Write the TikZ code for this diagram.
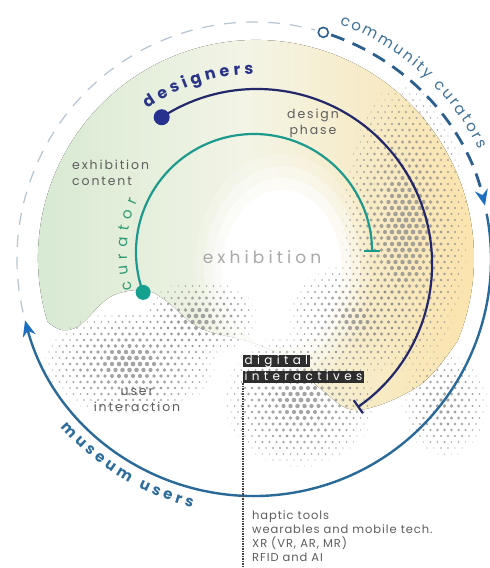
\documentclass[tikz,border=0pt]{standalone}
\usepackage{fontspec}
\setmainfont{Poppins}
\newfontfamily\spaced{Poppins}[LetterSpace=15]
\newfontfamily\widespaced{Poppins}[LetterSpace=24]
\newfontfamily\tagfont{Poppins}[LetterSpace=36]
\newfontfamily\listfont{Poppins}[LetterSpace=8]
\usetikzlibrary{arrows.meta,decorations.text}

\definecolor{regiongreen}{HTML}{D4E8D0}
\definecolor{regionpale}{HTML}{F3F4E6}
\definecolor{regionyellow}{HTML}{FBE3AB}
\definecolor{dotgray}{HTML}{8E8E8E}
\definecolor{ringgray}{HTML}{B7C4D1}
\definecolor{dashblue}{HTML}{2A5F8E}
\definecolor{outerblue}{HTML}{2A6A99}
\definecolor{arrowblue}{HTML}{1C6FBE}
\definecolor{commtext}{HTML}{3E7099}
\definecolor{museumtext}{HTML}{2D6C9B}
\definecolor{navyline}{HTML}{23286A}
\definecolor{navydot}{HTML}{27318E}
\definecolor{navytext}{HTML}{2A3487}
\definecolor{tealline}{HTML}{1D9A8E}
\definecolor{tealdot}{HTML}{16A08F}
\definecolor{tealtext}{HTML}{2F9B74}
\definecolor{labelgray}{HTML}{5E5E5E}
\definecolor{softgray}{HTML}{A9A9A9}
\definecolor{boxdark}{HTML}{2E2E2E}

\newcommand\arcfont{\fontsize{15}{15}\selectfont}
\newcommand\bigarcfont{\fontsize{16}{16}\selectfont}

% halftone dots: centre x, centre y, half width, half height, largest radius
\newcommand\halftone[5]{%
  \pgfmathtruncatemacro\hxa{(#1-#3)/7}%
  \pgfmathtruncatemacro\hxb{(#1+#3)/7+1}%
  \pgfmathtruncatemacro\hya{(#2-#4)/6}%
  \pgfmathtruncatemacro\hyb{(#2+#4)/6+1}%
  \foreach \j in {\hya,...,\hyb}{%
    \foreach \i in {\hxa,...,\hxb}{%
      \pgfmathsetmacro\px{7*\i+3.5*mod(\j,2)}%
      \pgfmathsetmacro\py{6*\j}%
      \pgfmathsetmacro\dd{sqrt(((\px-#1)/#3)^2+((\py-#2)/#4)^2)}%
      \ifdim\dd pt<1pt
        \pgfmathsetmacro\dotr{#5*(1-\dd)^0.6}%
        \ifdim\dotr pt>0.35pt \fill[dotgray, opacity=.8] (\px,\py) circle[radius=\dotr]; \fi
      \fi
    }%
  }%
}

\begin{document}
\begin{tikzpicture}[x=1pt, y=1pt,
  lbl/.style={text=labelgray, font=\spaced\fontsize{12.5}{16}\selectfont, align=center, inner sep=0pt},
  tagbox/.style={fill=boxdark, text=white, font=\tagfont\fontsize{12}{12}\selectfont, anchor=north west,
    inner xsep=1.5pt, inner ysep=0pt, text height=9.5pt, text depth=2.5pt},
  startdot/.style={circle, inner sep=0pt, minimum size=15pt},
  ringtip/.style={-{Stealth[length=16pt, width=13pt, color=arrowblue]}},
  endbar/.style={-{Bar[width=16pt]}}
]
\useasboundingbox (0,0) rectangle (490,568);
\fill[white] (0,0) rectangle (490,568);

\coordinate (O) at (254,309);
\coordinate (R) at (256,310);
\coordinate (N) at (257,304);
\coordinate (T) at (254,316);
\coordinate (B) at (282,298);

% coloured band behind the two arcs
\fill[left color=regiongreen, right color=regionyellow, middle color=regionpale]
  ([shift={(197:218)}]R) arc[start angle=197, end angle=-22, radius=218]
  -- plot[smooth, tension=0.6] coordinates {(458,228) (420,183) (358,158) (322,178) (290,208)
     (250,226) (200,240) (165,268) (143,278) (110,271) (80,243) (62,238) (47.5,246)} -- cycle;
\foreach \k/\op in {1.45/0.2, 1.3/0.35, 1.15/0.55, 1/1}
  \fill[white, opacity=\op] (B) ellipse[x radius=60*\k, y radius=80*\k];

% halftone
\halftone{405}{340}{66}{150}{2.6}
\halftone{355}{248}{70}{60}{2.3}
\halftone{300}{168}{80}{70}{2.4}
\halftone{445}{163}{45}{55}{2.0}
\halftone{200}{250}{60}{40}{2.4}
\halftone{130}{205}{90}{55}{2.5}

% outer ring
\draw[ringgray, line width=1.2pt, dash pattern=on 12pt off 10pt]
  ([shift={(193:237)}]O) arc[start angle=193, end angle=75, radius=237];
\node[circle, draw=dashblue, line width=1.6pt, minimum size=10pt, inner sep=0pt] (hub) at ([shift={(73:237)}]O) {};
\draw[dashblue, line width=2.8pt, dash pattern=on 14pt off 9pt, ringtip]
  ([shift={(71:237)}]O) arc[start angle=71, end angle=13, radius=237];
\draw[outerblue, line width=2.4pt, ringtip]
  ([shift={(11:237)}]O) arc[start angle=11, end angle=-165, radius=237];

% curator and designers
\coordinate (curstart) at ([shift={(200:118)}]T);
\draw[tealline, line width=2.2pt, endbar] (curstart) arc[start angle=200, end angle=0, radius=118];
\node[startdot, fill=tealdot] (curdot) at (curstart) {};
\coordinate (desstart) at ([shift={(123:175)}]N);
\draw[navyline, line width=2.2pt, endbar] (desstart) arc[start angle=123, end angle=-55, radius=175];
\node[startdot, fill=navydot, minimum size=16pt] (desdot) at (desstart) {};

% lettering on the arcs
\path[decorate, decoration={text along path, text align=fit to path,
  text={|\bigarcfont\bfseries\color{navytext}|designers}}]
  ([shift={(125:190)}]N) arc[start angle=125, end angle=91, radius=190];
\path[decorate, decoration={text along path, text align=fit to path,
  text={|\arcfont\color{tealtext}|curator}}]
  ([shift={(197:127)}]T) arc[start angle=197, end angle=156, radius=127];
\path[decorate, decoration={text along path, text align=fit to path,
  text={|\arcfont\color{commtext}|community curators}}]
  ([shift={(70:250)}]O) arc[start angle=70, end angle=26, radius=250];
\path[decorate, decoration={text along path, text align=fit to path,
  text={|\arcfont\bfseries\color{museumtext}|museum users}}]
  ([shift={(221:256)}]O) arc[start angle=221, end angle=256, radius=256];

% labels
\node[lbl, align=left, anchor=west] (content) at (72,395) {exhibition\\content};
\node[lbl] (phase) at (313,445) {design\\phase};
\node[text=softgray, font=\widespaced\fontsize{17}{17}\selectfont] (exh) at (262,311) {exhibition};
\node[lbl] (usr) at (137,168) {user\\interaction};

\node[tagbox] (dig) at (243,213) {digital};
\node[tagbox] (inter) at (243,197) {interactives};
\coordinate (listend) at (243,2);
\draw[labelgray!70!black, line width=1.2pt, dash pattern=on 1.2pt off 1.3pt] (inter.south west) -- (listend);
\node[anchor=north west, align=left, text=labelgray, inner sep=0pt,
  font=\listfont\fontsize{11.5}{14}\selectfont] (tech) at (252,57)
  {haptic tools\\wearables and mobile tech.\\XR (VR, AR, MR)\\RFID and AI};
\end{tikzpicture}
\end{document}
